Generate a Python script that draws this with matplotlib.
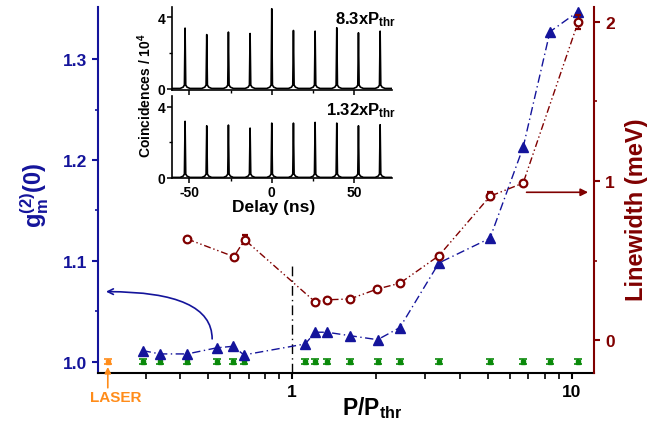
import matplotlib
matplotlib.use('Agg')
import matplotlib.pyplot as plt
from matplotlib.ticker import MultipleLocator, FixedLocator, NullFormatter, FormatStrFormatter

plt.rcParams['font.family'] = ['Liberation Sans', 'DejaVu Sans']
plt.rcParams['font.weight'] = 'bold'
plt.rcParams['axes.unicode_minus'] = False
plt.rcParams['mathtext.fontset'] = 'custom'
plt.rcParams['mathtext.rm'] = 'Liberation Sans:bold'
plt.rcParams['mathtext.it'] = 'Liberation Sans:bold'
plt.rcParams['mathtext.bf'] = 'Liberation Sans:bold'

BLUE = '#14149b'
RED = '#800000'
GREEN = '#0a8a0a'
ORANGE = '#ff8c1a'

# g2(0) vs pump power (left axis)
p_g2 = [0.293, 0.338, 0.423, 0.538, 0.617, 0.674, 1.116, 1.211, 1.333, 1.611,
        2.023, 2.43, 3.35, 5.10, 6.70, 8.35, 10.53]
g2 = [1.0112, 1.0079, 1.0079, 1.0139, 1.0155, 1.0069, 1.0178, 1.0294, 1.0294, 1.026,
      1.022, 1.034, 1.098, 1.1225, 1.2126, 1.327, 1.347]
g2_err = [0.003, 0.003, 0.003, 0.003, 0.003, 0.003, 0.003, 0.003, 0.003, 0.003,
          0.003, 0.003, 0.003, 0.003, 0.003, 0.003, 0.003]

# reference g2 (green) measured at the same powers
g2_ref = [1.0, 1.0, 1.0, 1.0, 1.0, 1.0, 1.0, 1.0, 1.0, 1.0,
          1.0, 1.0, 1.0, 1.0, 1.0, 1.0, 1.0]
g2_ref_err = [0.0025, 0.0025, 0.0025, 0.0025, 0.0025, 0.0025, 0.0025, 0.0025, 0.0025, 0.0025,
              0.0025, 0.0025, 0.0025, 0.0025, 0.0025, 0.0025, 0.0025]

# laser reference
p_laser = [0.220]
g2_laser = [1.0]
g2_laser_err = [0.0025]

# linewidth (right axis)
p_lw = [0.423, 0.621, 0.678, 1.208, 1.337, 1.611, 2.02, 2.43, 3.35, 5.10, 6.70, 10.53]
linewidth = [0.635, 0.524, 0.631, 0.241, 0.253, 0.258, 0.321, 0.357, 0.530, 0.904, 0.987, 2.00]
linewidth_err = [0.01, 0.01, 0.03, 0.01, 0.01, 0.01, 0.01, 0.01, 0.01, 0.025, 0.01, 0.042]

# inset: coincidence histograms (in units of 10^4)
delay_peaks = [-52.6, -39.45, -26.3, -13.15, 0.0, 13.15, 26.3, 39.45, 52.6, 65.75]
heights_high = [3.39, 3.03, 3.17, 3.09, 4.47, 3.26, 3.22, 3.41, 3.13, 3.22]
heights_low = [3.17, 2.92, 2.96, 2.79, 3.07, 3.07, 3.11, 3.07, 2.92, 2.98]
peak_dt = [-3.0, -1.2, -0.4, 0.0, 0.4, 1.2, 3.0]
peak_base = [0.03, 0.1, 0.22, None, 0.22, 0.1, 0.03]


def trace(heights):
    t, y = [-61.0], [0.03]
    for c, h in zip(delay_peaks, heights):
        for dt, b in zip(peak_dt, peak_base):
            t.append(c + dt)
            y.append(h if b is None else b)
    t.append(73.0)
    y.append(0.03)
    return t, y


fig = plt.figure(figsize=(6.7, 4.27), dpi=100)
ax = fig.add_axes([0.1463, 0.1241, 0.7403, 0.8571])
ax2 = ax.twinx()

ax.set_xscale('log')
ax.set_xlim(0.203, 12.0)
ax.set_ylim(0.989, 1.3515)
ax2.set_ylim(-0.2075, 2.094)

# green reference points and laser
ax.errorbar(p_g2, g2_ref, yerr=g2_ref_err, fmt='s', ms=3.5, color=GREEN,
            ecolor=GREEN, elinewidth=1.2, capsize=3, capthick=1.2, zorder=3)
ax.errorbar(p_laser, g2_laser, yerr=g2_laser_err, fmt='s', ms=3.5, color=ORANGE,
            ecolor=ORANGE, elinewidth=1.2, capsize=3, capthick=1.2, zorder=3)

# g2 data
ax.errorbar(p_g2, g2, yerr=g2_err, fmt='^', ms=7, color=BLUE, ecolor=BLUE,
            elinewidth=1, capsize=0, zorder=4)
ax.plot(p_g2, g2, color=BLUE, lw=1, ls=(0, (6, 2.5, 1, 2.5)), zorder=3)

# linewidth data
ax2.plot(p_lw, linewidth, color=RED, lw=1, ls=(0, (5, 2, 1, 2, 1, 2)), zorder=3)
ax2.errorbar(p_lw, linewidth, yerr=linewidth_err, fmt='o', ms=5.5, mfc='white',
             mec=RED, mew=1.6, ecolor=RED, elinewidth=1, capsize=2.5, zorder=4)

# threshold line
ax.axvline(1.0, ymin=0, ymax=0.298, color='black', lw=1, ls=(0, (7, 3, 1, 3)))

# arrows
ax.annotate('', xy=(0.2167, 1.0696), xytext=(0.519, 1.0228),
            arrowprops=dict(arrowstyle='->', color=BLUE, lw=1.2, shrinkA=0, shrinkB=0,
                            connectionstyle='angle3,angleA=90,angleB=0'))
ax2.annotate('', xy=(11.43, 0.929), xytext=(6.89, 0.929),
             arrowprops=dict(arrowstyle='-|>', color=RED, lw=1.2, shrinkA=0, shrinkB=0,
                             mutation_scale=11))
ax.annotate('', xy=(0.220, 0.9950), xytext=(0, -15), textcoords='offset points',
            annotation_clip=False,
            arrowprops=dict(arrowstyle='-|>', color=ORANGE, lw=1.2, shrinkA=0, shrinkB=0,
                            mutation_scale=9))
fig.text(116 / 670, 1 - 398 / 427, 'LASER', color=ORANGE, fontsize=11,
         ha='center', va='center', fontweight='bold')

# spines
ax.spines['top'].set_visible(False)
ax.spines['right'].set_visible(False)
ax.spines['left'].set_color(BLUE)
ax.spines['left'].set_linewidth(1.5)
ax.spines['bottom'].set_linewidth(1.5)
for s in ['top', 'left', 'bottom']:
    ax2.spines[s].set_visible(False)
ax2.spines['right'].set_color(RED)
ax2.spines['right'].set_linewidth(1.5)

# ticks
ax.yaxis.set_major_locator(FixedLocator([1.0, 1.1, 1.2, 1.3]))
ax.yaxis.set_major_formatter(FormatStrFormatter('%.1f'))
ax.yaxis.set_minor_locator(FixedLocator([1.05, 1.15, 1.25]))
ax.xaxis.set_major_locator(FixedLocator([1, 10]))
ax.xaxis.set_major_formatter(FormatStrFormatter('%d'))
ax.xaxis.set_minor_locator(FixedLocator([0.2, 0.3, 0.4, 0.5, 0.6, 0.7, 0.8, 0.9,
                                         2, 3, 4, 5, 6, 7, 8, 9]))
ax.xaxis.set_minor_formatter(NullFormatter())
ax.tick_params(axis='y', which='major', colors=BLUE, length=4, width=1.5, labelsize=12.5, pad=4)
ax.tick_params(axis='y', which='minor', colors=BLUE, length=2.5, width=1.2)
ax.tick_params(axis='x', which='major', length=4, width=1.5, labelsize=12.5, pad=4)
ax.tick_params(axis='x', which='minor', length=4, width=1.2)

ax2.yaxis.set_major_locator(FixedLocator([0, 1, 2]))
ax2.yaxis.set_major_formatter(FormatStrFormatter('%d'))
ax2.yaxis.set_minor_locator(FixedLocator([0.5, 1.5]))
ax2.tick_params(axis='y', which='major', colors=RED, length=4, width=1.5, labelsize=12.5, pad=4)
ax2.tick_params(axis='y', which='minor', colors=RED, length=2.5, width=1.2)

# axis labels
fig.text(35 / 670, 1 - 195 / 427, r'g$_{\rm m}^{\rm (2)}$(0)', color=BLUE, fontsize=17,
         rotation=90, ha='center', va='center')
fig.text(637 / 670, 1 - 210 / 427, 'Linewidth (meV)', color=RED, fontsize=17,
         rotation=90, ha='center', va='center')
fig.text(372 / 670, 1 - 408 / 427, r'P/P$_{\rm thr}$', color='black', fontsize=16.5,
         ha='center', va='center')

# inset
ins_top = fig.add_axes([0.2563, 0.7876, 0.3284, 0.1937])
ins_bot = fig.add_axes([0.2563, 0.5801, 0.3284, 0.1927])
for a, hts, lim in [(ins_top, heights_high, (-0.04, 4.57)), (ins_bot, heights_low, (-0.02, 4.59))]:
    t, y = trace(hts)
    a.plot(t, y, color='black', lw=1.2)
    a.set_xlim(-60.7, 72.8)
    a.set_ylim(*lim)
    a.patch.set_alpha(0)
    a.spines['top'].set_visible(False)
    a.spines['right'].set_visible(False)
    a.spines['left'].set_linewidth(1.2)
    a.spines['bottom'].set_linewidth(1.2)
    a.yaxis.set_major_locator(FixedLocator([0, 4]))
    a.yaxis.set_minor_locator(FixedLocator([2]))
    a.xaxis.set_major_locator(FixedLocator([-50, 0, 50]))
    a.xaxis.set_minor_locator(MultipleLocator(25))
    a.tick_params(which='major', length=3.5, width=1.1, labelsize=10, pad=1)
    a.tick_params(which='minor', length=2.5, width=1.0)
ins_top.xaxis.set_major_formatter(NullFormatter())

ins_top.text(1.02, 0.86, r'8.3xP$_{\rm thr}$', transform=ins_top.transAxes,
             ha='right', va='center', fontsize=12)
ins_bot.text(1.02, 0.83, r'1.32xP$_{\rm thr}$', transform=ins_bot.transAxes,
             ha='right', va='center', fontsize=12)
fig.text(145 / 670, 1 - 96 / 427, r'Coincidences / 10$^{\rm 4}$', fontsize=10,
         rotation=90, ha='center', va='center')
fig.text(274 / 670, 1 - 208 / 427, 'Delay (ns)', fontsize=12.5, ha='center', va='center')

fig.savefig('out.png', dpi=100)
